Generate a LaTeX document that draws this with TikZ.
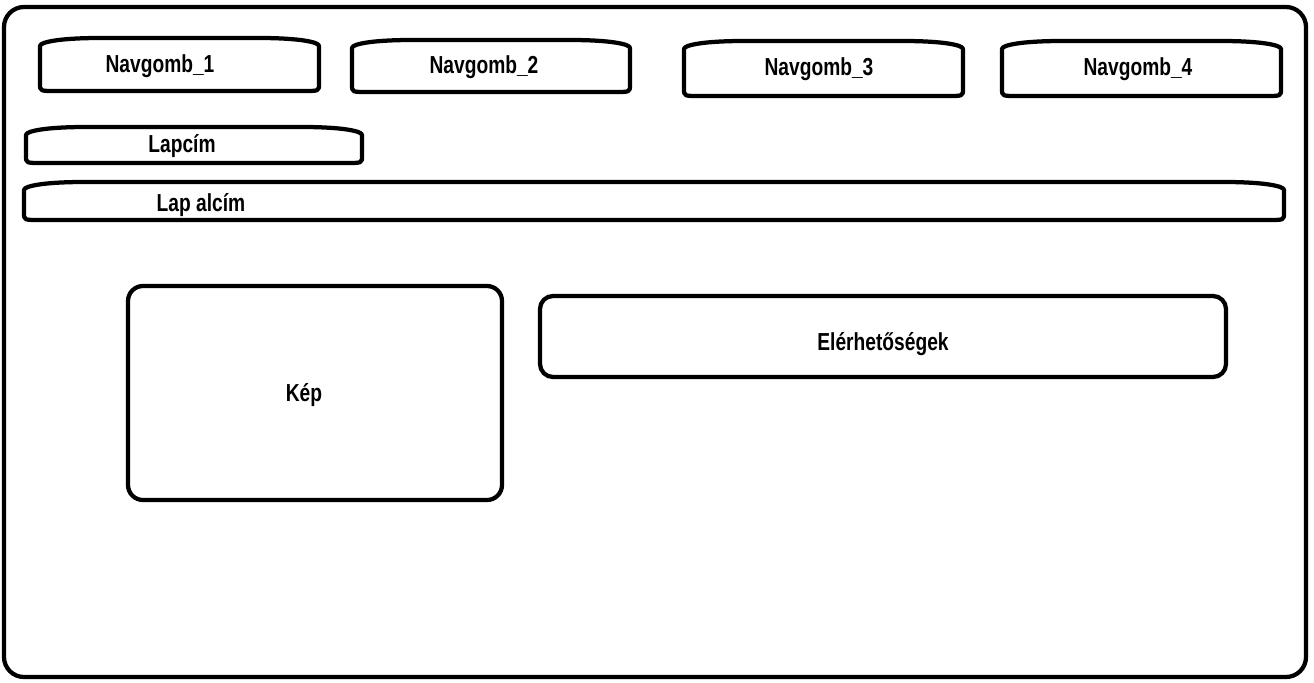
\documentclass[tikz,border=0pt]{standalone}
\usepackage{fontspec}
\setmainfont{Liberation Sans}[FakeStretch=0.78]
\usetikzlibrary{calc}
\tikzset{
  wire/.style={line width=0.85mm, draw=black},
  panel/.style={wire, rectangle, rounded corners=3mm},
  slot/.style={rectangle, inner sep=0pt, outer sep=0pt},
  caption/.style={font=\fontsize{14}{16}\selectfont\bfseries, inner sep=0pt}
}
\begin{document}
\begin{tikzpicture}[x=0.2mm, y=-0.2mm]
\useasboundingbox (0,0) rectangle (1314,682);
\tikzstyle{every node}=[caption]
% frame
\draw [wire, rounded corners=4mm] (4,7) rectangle (1306,677);
% top bar slots
\node[slot, minimum width=55.8mm, minimum height=10.6mm] (nav1) at (179.5,64.5) {};
\node[slot, minimum width=55.6mm, minimum height=10.4mm] (nav2) at (491,66) {};
\node[slot, minimum width=55.8mm, minimum height=11mm] (nav3) at (823.5,68.5) {};
\node[slot, minimum width=55.8mm, minimum height=11mm] (nav4) at (1141.5,68.5) {};
\node[slot, minimum width=67.2mm, minimum height=7.2mm] (cim) at (194,145) {};
\node[slot, minimum width=252mm, minimum height=7.6mm] (alcim) at (654,201) {};
\foreach \n in {nav1,nav2,nav3,nav4,cim,alcim}
  \draw [wire, line join=round]
    ($(\n.north west)+(0,8)$) -- ($(\n.south west)+(0,-7)$)
    .. controls ($(\n.south west)+(0,0)$) .. ($(\n.south west)+(16,0)$)
    -- ($(\n.south east)+(-16,0)$)
    .. controls ($(\n.south east)+(0,0)$) .. ($(\n.south east)+(0,-7)$)
    -- ($(\n.north east)+(0,8)$)
    .. controls ($(\n.north east)+(0,4)$) and ($(\n.north east)+(-20,0)$) .. ($(\n.north east)+(-60,0)$)
    -- ($(\n.north west)+(60,0)$)
    .. controls ($(\n.north west)+(20,0)$) and ($(\n.north west)+(0,4)$) .. cycle;
\node (nav1txt) at (160,66) {Navgomb\_1};
\node (nav2txt) at (484,67) {Navgomb\_2};
\node (nav3txt) at (819,69) {Navgomb\_3};
\node (nav4txt) at (1138,69) {Navgomb\_4};
\node (cimtxt) at (182,146) {Lapcím};
\node (alcimtxt) at (201,205) {Lap alcím};
% content
\node[panel, minimum width=74.8mm, minimum height=42.8mm] (kep) at (315,393) {};
\node (keptxt) at (304,395) {Kép};
\node[panel, rounded corners=2.6mm, minimum width=137.2mm, minimum height=16.2mm] (eler) at (883,336.5) {};
\node (elertxt) at (883,344) {Elérhetőségek};
\end{tikzpicture}
\end{document}
